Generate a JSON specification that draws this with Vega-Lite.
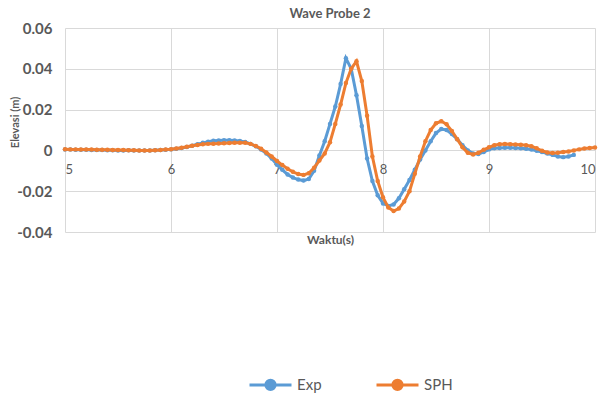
{
  "$schema": "https://vega.github.io/schema/vega-lite/v6.json",
  "width": 530,
  "height": 204,
  "autosize": {"type": "none"},
  "padding": {"left": 65, "top": 28, "right": 7, "bottom": 167},
  "background": "white",
  "config": {"view": {"stroke": null}, "font": "Lato"},
  "title": {"text": "Wave Probe 2", "fontSize": 13, "fontWeight": "bold", "color": "#595959", "font": "Lato", "offset": 0, "anchor": "middle"},
  "datasets": {
    "exp": [
      {"t":5.00,"v":0.0004},{"t":5.05,"v":0.0004},{"t":5.10,"v":0.0003},{"t":5.15,"v":0.0003},{"t":5.20,"v":0.0003},
      {"t":5.25,"v":0.0002},{"t":5.30,"v":0.0002},{"t":5.35,"v":0.0002},{"t":5.40,"v":0.0001},{"t":5.45,"v":0.0001},
      {"t":5.50,"v":0.0000},{"t":5.55,"v":0.0000},{"t":5.60,"v":0.0001},{"t":5.65,"v":0.0000},{"t":5.70,"v":-0.0001},
      {"t":5.75,"v":-0.0001},{"t":5.80,"v":0.0000},{"t":5.85,"v":0.0001},{"t":5.90,"v":0.0002},{"t":5.95,"v":0.0003},
      {"t":6.00,"v":0.0005},{"t":6.05,"v":0.0008},{"t":6.10,"v":0.0012},{"t":6.15,"v":0.0017},{"t":6.20,"v":0.0023},
      {"t":6.25,"v":0.0030},{"t":6.30,"v":0.0037},{"t":6.35,"v":0.0043},{"t":6.40,"v":0.0047},{"t":6.45,"v":0.0049},
      {"t":6.50,"v":0.0050},{"t":6.55,"v":0.0050},{"t":6.60,"v":0.0049},{"t":6.65,"v":0.0046},{"t":6.70,"v":0.0041},
      {"t":6.75,"v":0.0032},{"t":6.80,"v":0.0020},{"t":6.85,"v":0.0004},{"t":6.90,"v":-0.0015},{"t":6.95,"v":-0.0040},
      {"t":7.00,"v":-0.0070},{"t":7.05,"v":-0.0095},{"t":7.10,"v":-0.0118},{"t":7.15,"v":-0.0133},{"t":7.20,"v":-0.0143},
      {"t":7.25,"v":-0.0148},{"t":7.30,"v":-0.0140},{"t":7.35,"v":-0.0100},{"t":7.40,"v":-0.0025},{"t":7.45,"v":0.0045},
      {"t":7.50,"v":0.0130},{"t":7.55,"v":0.0215},{"t":7.60,"v":0.0325},{"t":7.65,"v":0.0452},{"t":7.70,"v":0.0400},
      {"t":7.75,"v":0.0270},{"t":7.80,"v":0.0120},{"t":7.85,"v":-0.0040},{"t":7.90,"v":-0.0150},{"t":7.95,"v":-0.0220},
      {"t":8.00,"v":-0.0260},{"t":8.05,"v":-0.0272},{"t":8.10,"v":-0.0265},{"t":8.15,"v":-0.0235},{"t":8.20,"v":-0.0190},
      {"t":8.25,"v":-0.0145},{"t":8.30,"v":-0.0095},{"t":8.35,"v":-0.0045},{"t":8.40,"v":0.0000},{"t":8.45,"v":0.0045},
      {"t":8.50,"v":0.0085},{"t":8.55,"v":0.0105},{"t":8.60,"v":0.0100},{"t":8.65,"v":0.0080},{"t":8.70,"v":0.0055},
      {"t":8.75,"v":0.0025},{"t":8.80,"v":0.0000},{"t":8.85,"v":-0.0015},{"t":8.90,"v":-0.0018},{"t":8.95,"v":-0.0008},
      {"t":9.00,"v":0.0005},{"t":9.05,"v":0.0010},{"t":9.10,"v":0.0012},{"t":9.15,"v":0.0013},{"t":9.20,"v":0.0013},
      {"t":9.25,"v":0.0012},{"t":9.30,"v":0.0010},{"t":9.35,"v":0.0008},{"t":9.40,"v":0.0004},{"t":9.45,"v":-0.0002},
      {"t":9.50,"v":-0.0008},{"t":9.55,"v":-0.0015},{"t":9.60,"v":-0.0022},{"t":9.65,"v":-0.0030},{"t":9.70,"v":-0.0033},
      {"t":9.75,"v":-0.0030},{"t":9.80,"v":-0.0022}
    ],
    "sph": [
      {"t":5.00,"v":0.0006},{"t":5.05,"v":0.0005},{"t":5.10,"v":0.0005},{"t":5.15,"v":0.0004},{"t":5.20,"v":0.0004},
      {"t":5.25,"v":0.0004},{"t":5.30,"v":0.0003},{"t":5.35,"v":0.0003},{"t":5.40,"v":0.0003},{"t":5.45,"v":0.0002},
      {"t":5.50,"v":0.0002},{"t":5.55,"v":0.0002},{"t":5.60,"v":0.0001},{"t":5.65,"v":0.0001},{"t":5.70,"v":0.0000},
      {"t":5.75,"v":-0.0001},{"t":5.80,"v":0.0000},{"t":5.85,"v":0.0001},{"t":5.90,"v":0.0002},{"t":5.95,"v":0.0004},
      {"t":6.00,"v":0.0006},{"t":6.05,"v":0.0009},{"t":6.10,"v":0.0013},{"t":6.15,"v":0.0018},{"t":6.20,"v":0.0023},
      {"t":6.25,"v":0.0027},{"t":6.30,"v":0.0030},{"t":6.35,"v":0.0032},{"t":6.40,"v":0.0033},{"t":6.45,"v":0.0034},
      {"t":6.50,"v":0.0035},{"t":6.55,"v":0.0036},{"t":6.60,"v":0.0037},{"t":6.65,"v":0.0038},{"t":6.70,"v":0.0037},
      {"t":6.75,"v":0.0032},{"t":6.80,"v":0.0022},{"t":6.85,"v":0.0008},{"t":6.90,"v":-0.0010},{"t":6.95,"v":-0.0030},
      {"t":7.00,"v":-0.0052},{"t":7.05,"v":-0.0072},{"t":7.10,"v":-0.0090},{"t":7.15,"v":-0.0105},{"t":7.20,"v":-0.0116},
      {"t":7.25,"v":-0.0120},{"t":7.30,"v":-0.0112},{"t":7.35,"v":-0.0085},{"t":7.40,"v":-0.0050},{"t":7.45,"v":-0.0015},
      {"t":7.50,"v":0.0040},{"t":7.55,"v":0.0130},{"t":7.60,"v":0.0225},{"t":7.65,"v":0.0330},{"t":7.70,"v":0.0400},
      {"t":7.75,"v":0.0437},{"t":7.80,"v":0.0340},{"t":7.85,"v":0.0170},{"t":7.90,"v":-0.0030},{"t":7.95,"v":-0.0150},
      {"t":8.00,"v":-0.0230},{"t":8.05,"v":-0.0280},{"t":8.10,"v":-0.0297},{"t":8.15,"v":-0.0285},{"t":8.20,"v":-0.0250},
      {"t":8.25,"v":-0.0200},{"t":8.30,"v":-0.0115},{"t":8.35,"v":-0.0030},{"t":8.40,"v":0.0045},{"t":8.45,"v":0.0100},
      {"t":8.50,"v":0.0133},{"t":8.55,"v":0.0143},{"t":8.60,"v":0.0128},{"t":8.65,"v":0.0095},{"t":8.70,"v":0.0055},
      {"t":8.75,"v":0.0015},{"t":8.80,"v":-0.0012},{"t":8.85,"v":-0.0020},{"t":8.90,"v":-0.0012},{"t":8.95,"v":0.0003},
      {"t":9.00,"v":0.0015},{"t":9.05,"v":0.0025},{"t":9.10,"v":0.0030},{"t":9.15,"v":0.0031},{"t":9.20,"v":0.0030},
      {"t":9.25,"v":0.0029},{"t":9.30,"v":0.0028},{"t":9.35,"v":0.0025},{"t":9.40,"v":0.0020},{"t":9.45,"v":0.0010},
      {"t":9.50,"v":-0.0002},{"t":9.55,"v":-0.0010},{"t":9.60,"v":-0.0013},{"t":9.65,"v":-0.0012},{"t":9.70,"v":-0.0008},
      {"t":9.75,"v":-0.0005},{"t":9.80,"v":0.0000},{"t":9.85,"v":0.0005},{"t":9.90,"v":0.0009},{"t":9.95,"v":0.0012},
      {"t":10.00,"v":0.0014}
    ]
  },
  "layer": [
    {
      "data": {"name": "exp"},
      "transform": [{"calculate": "'Exp'", "as": "s"}],
      "mark": {"type": "line", "strokeWidth": 3, "point": {"filled": true, "size": 20}},
      "encoding": {
        "x": {"field": "t", "type": "quantitative"},
        "y": {"field": "v", "type": "quantitative"},
        "color": {"field": "s", "type": "nominal"}
      }
    },
    {
      "data": {"name": "sph"},
      "transform": [{"calculate": "'SPH'", "as": "s"}],
      "mark": {"type": "line", "strokeWidth": 3, "point": {"filled": true, "size": 20}},
      "encoding": {
        "x": {"field": "t", "type": "quantitative"},
        "y": {"field": "v", "type": "quantitative"},
        "color": {"field": "s", "type": "nominal"}
      }
    }
  ],
  "resolve": {"scale": {"color": "shared"}},
  "encoding": {
    "x": {
      "field": "t", "type": "quantitative",
      "scale": {"domain": [5, 10], "nice": false, "zero": false},
      "axis": {
        "orient": "bottom", "offset": -81, "values": [5, 6, 7, 8, 9, 10],
        "domain": false, "ticks": false, "grid": true, "gridColor": "#D9D9D9", "gridWidth": 1,
        "labelFontSize": 13, "labelColor": "#595959", "labelPadding": 12, "labelFont": "Lato",
        "title": "Waktu(s)", "titleFontSize": 12, "titleFontWeight": "bold", "titleColor": "#595959", "titleFont": "Lato",
        "titleY": 83, "titleBaseline": "top"
      }
    },
    "y": {
      "field": "v", "type": "quantitative",
      "scale": {"domain": [-0.04, 0.06], "nice": false, "zero": false},
      "axis": {
        "values": [-0.04, -0.02, 0, 0.02, 0.04, 0.06], "labelExpr": "toString(datum.value)",
        "domain": false, "ticks": false, "grid": true, "gridColor": "#D9D9D9", "gridWidth": 1,
        "labelFontSize": 15, "labelFontWeight": "bold", "labelColor": "#595959", "labelPadding": 13, "labelFont": "Lato",
        "title": "Elevasi (m)", "titleFontSize": 11, "titleFontWeight": "bold", "titleColor": "#595959", "titleFont": "Lato",
        "titleX": -50, "titleY": 94, "titleAlign": "center", "titleBaseline": "middle", "titleAngle": -90
      }
    },
    "color": {
      "field": "s", "type": "nominal",
      "scale": {"domain": ["Exp", "SPH"], "range": ["#5B9BD5", "#ED7D31"]},
      "legend": {
        "orient": "none", "legendX": 183, "legendY": 334, "direction": "horizontal", "title": null,
        "symbolType": "M-1,0L1,0M-0.22,0A0.22,0.22 0 1,0 0.22,0A0.22,0.22 0 1,0 -0.22,0",
        "symbolSize": 1764, "symbolStrokeWidth": 3,
        "labelFontSize": 15, "labelColor": "#595959", "labelFont": "Lato", "labelOffset": 4,
        "columnPadding": 48,
        "encode": {"symbols": {"update": {"fill": {"scale": "color", "field": "value"}, "stroke": {"scale": "color", "field": "value"}}}}
      }
    }
  }
}
